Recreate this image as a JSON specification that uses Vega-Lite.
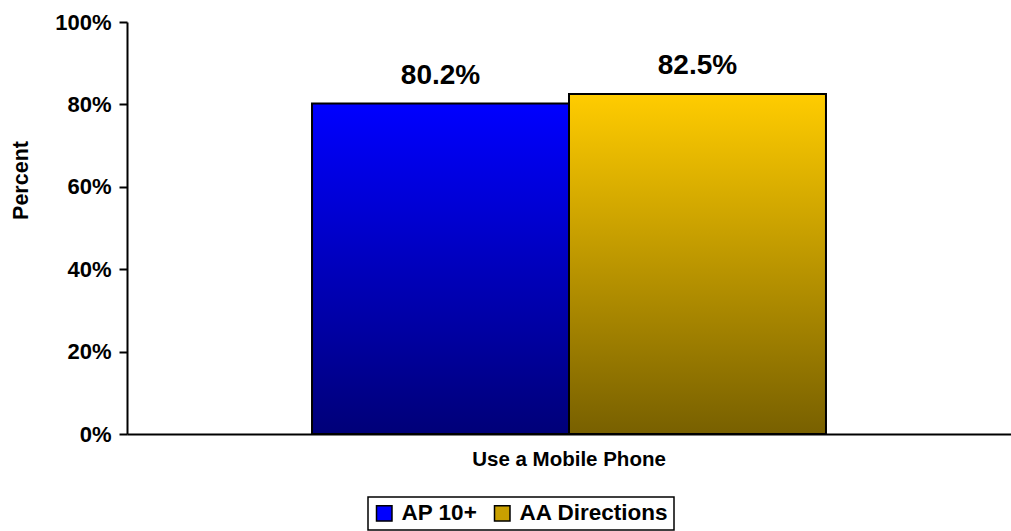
{
  "$schema": "https://vega.github.io/schema/vega-lite/v6.json",
  "autosize": "none",
  "width": 884,
  "height": 412,
  "padding": {"left": 127, "top": 22, "right": 0, "bottom": 97},
  "background": "white",
  "config": {
    "font": "Liberation Sans",
    "view": {"stroke": null}
  },
  "data": {
    "values": [
      {"category": "Use a Mobile Phone", "series": "AP 10+", "value": 0.802},
      {"category": "Use a Mobile Phone", "series": "AA Directions", "value": 0.825}
    ]
  },
  "encoding": {
    "x": {
      "field": "category",
      "type": "nominal",
      "scale": {"paddingInner": 0, "paddingOuter": 0.36},
      "axis": {
        "title": null,
        "labelAngle": 0,
        "labelFont": "Liberation Sans",
        "labelFontSize": 20.5,
        "labelFontWeight": "bold",
        "labelColor": "black",
        "labelPadding": 15,
        "labelLimit": 500,
        "ticks": false,
        "domainColor": "black",
        "domainWidth": 2
      }
    },
    "xOffset": {
      "field": "series",
      "type": "nominal",
      "sort": ["AP 10+", "AA Directions"],
      "scale": {"domain": ["AP 10+", "AA Directions"], "paddingInner": 0, "paddingOuter": 0}
    },
    "y": {
      "field": "value",
      "type": "quantitative",
      "scale": {"domain": [0, 1], "nice": false},
      "axis": {
        "title": "Percent",
        "titleFont": "Liberation Sans",
        "titleFontSize": 21.5,
        "titleFontWeight": "bold",
        "titleColor": "black",
        "titlePadding": 22,
        "titleY": 158,
        "values": [0, 0.2, 0.4, 0.6, 0.8, 1],
        "format": ".0%",
        "labelFont": "Liberation Sans",
        "labelFontSize": 22,
        "labelFontWeight": "bold",
        "labelColor": "black",
        "labelPadding": 8,
        "grid": false,
        "tickColor": "black",
        "tickWidth": 2,
        "tickSize": 8,
        "domainColor": "black",
        "domainWidth": 2
      }
    }
  },
  "layer": [
    {
      "transform": [{"filter": "datum.series === 'AP 10+'"}],
      "mark": {
        "type": "bar",
        "stroke": "black",
        "strokeWidth": 2,
        "fill": {"gradient": "linear", "x1": 0, "y1": 0, "x2": 0, "y2": 1, "stops": [{"offset": 0, "color": "#0000ff"}, {"offset": 1, "color": "#000078"}]}
      }
    },
    {
      "transform": [{"filter": "datum.series === 'AA Directions'"}],
      "mark": {
        "type": "bar",
        "stroke": "black",
        "strokeWidth": 2,
        "fill": {"gradient": "linear", "x1": 0, "y1": 0, "x2": 0, "y2": 1, "stops": [{"offset": 0, "color": "#ffcc00"}, {"offset": 1, "color": "#786000"}]}
      }
    },
    {
      "mark": {"type": "point", "shape": "square", "filled": true, "opacity": 0},
      "encoding": {
        "fill": {
          "field": "series",
          "type": "nominal",
          "sort": ["AP 10+", "AA Directions"],
          "scale": {"domain": ["AP 10+", "AA Directions"], "range": ["#0000ff", "#c9a000"]},
          "legend": {
            "title": null,
            "orient": "none",
            "legendX": 241,
            "legendY": 475,
            "direction": "horizontal",
            "symbolType": "square",
            "symbolSize": 240,
            "symbolStrokeColor": "black",
            "symbolStrokeWidth": 1.5,
            "labelFont": "Liberation Sans",
            "labelFontSize": 22.5,
            "labelFontWeight": "bold",
            "labelColor": "black",
            "labelOffset": 6,
            "columnPadding": 13,
            "strokeColor": "black",
            "padding": 5,
            "fillColor": "white",
            "encode": {
              "legend": {
                "update": {"strokeWidth": {"value": 1.5}}
              },
              "symbols": {
                "update": {
                  "opacity": {"value": 1},
                  "fillOpacity": {"value": 1},
                  "strokeOpacity": {"value": 1},
                  "stroke": {"value": "black"},
                  "fill": {"signal": "datum.value === 'AA Directions' ? {gradient: 'linear', x1: 0, y1: 0, x2: 0, y2: 1, stops: [{offset: 0, color: '#ffcc00'}, {offset: 1, color: '#786000'}]} : '#0000ff'"}
                }
              }
            }
          }
        }
      }
    },
    {
      "mark": {
        "type": "text",
        "dy": -20,
        "baseline": "alphabetic",
        "font": "Liberation Sans",
        "fontSize": 28,
        "fontWeight": "bold",
        "color": "black"
      },
      "encoding": {
        "text": {"field": "value", "type": "quantitative", "format": ".1%"}
      }
    }
  ]
}
